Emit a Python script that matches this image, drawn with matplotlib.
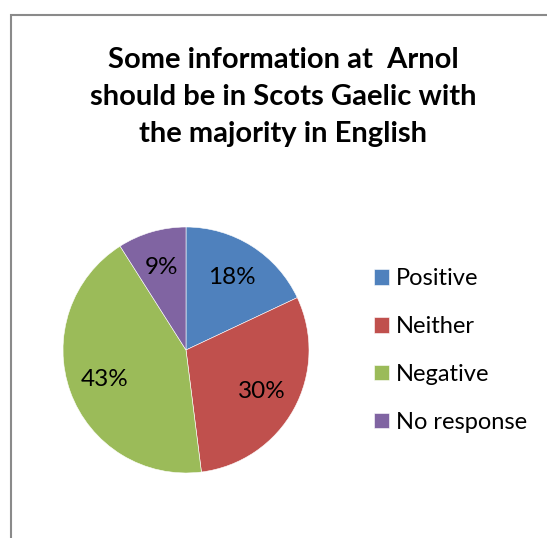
import matplotlib
matplotlib.use("Agg")
import matplotlib.pyplot as plt
from matplotlib.patches import Rectangle

categories = ["Positive", "Neither", "Negative", "No response"]
values = [18, 30, 43, 9]
colors = ["#4F81BD", "#C0504D", "#9BBB59", "#8064A2"]
title_lines = ["Some information at  Arnol",
               "should be in Scots Gaelic with",
               "the majority in English"]

W, H = 547, 538
fig = plt.figure(figsize=(W / 100, H / 100), dpi=100)
plt.rcParams["font.family"] = ["Lato", "DejaVu Sans"]

# chart frame (left and top edges visible)
fig.patches.append(Rectangle((11 / W, -0.1), 1.2, 1 - 15 / H + 0.1,
                             transform=fig.transFigure, fill=False,
                             edgecolor="#8a8a8a", linewidth=1.5))

# title
for text, base in zip(title_lines, [68, 105, 142]):
    fig.text(283 / W, 1 - base / H, text, ha="center", va="baseline",
             fontsize=21, fontweight="bold", color="black")

cx, cy, r = 186, 350, 123
ax = fig.add_axes([(cx - r) / W, (H - cy - r) / H, 2 * r / W, 2 * r / H])
wedges, texts, autotexts = ax.pie(
    values, colors=colors, startangle=90, counterclock=False,
    autopct=lambda p: f"{p:.0f}%", pctdistance=0.7,
    wedgeprops=dict(edgecolor="white", linewidth=0.4),
    textprops=dict(fontsize=17.5, color="black"))
ax.set_xlim(-1, 1)
ax.set_ylim(-1, 1)
ax.set_aspect("equal")
ax.axis("off")

fig.legend(wedges, categories, loc="center left",
           bbox_to_anchor=(374 / W, 1 - 350.5 / H), frameon=False,
           borderpad=0, borderaxespad=0, fontsize=17,
           handlelength=0.64, handleheight=0.64, handletextpad=0.3,
           labelspacing=1.14)

fig.savefig("out.png", dpi=100, facecolor="white")
